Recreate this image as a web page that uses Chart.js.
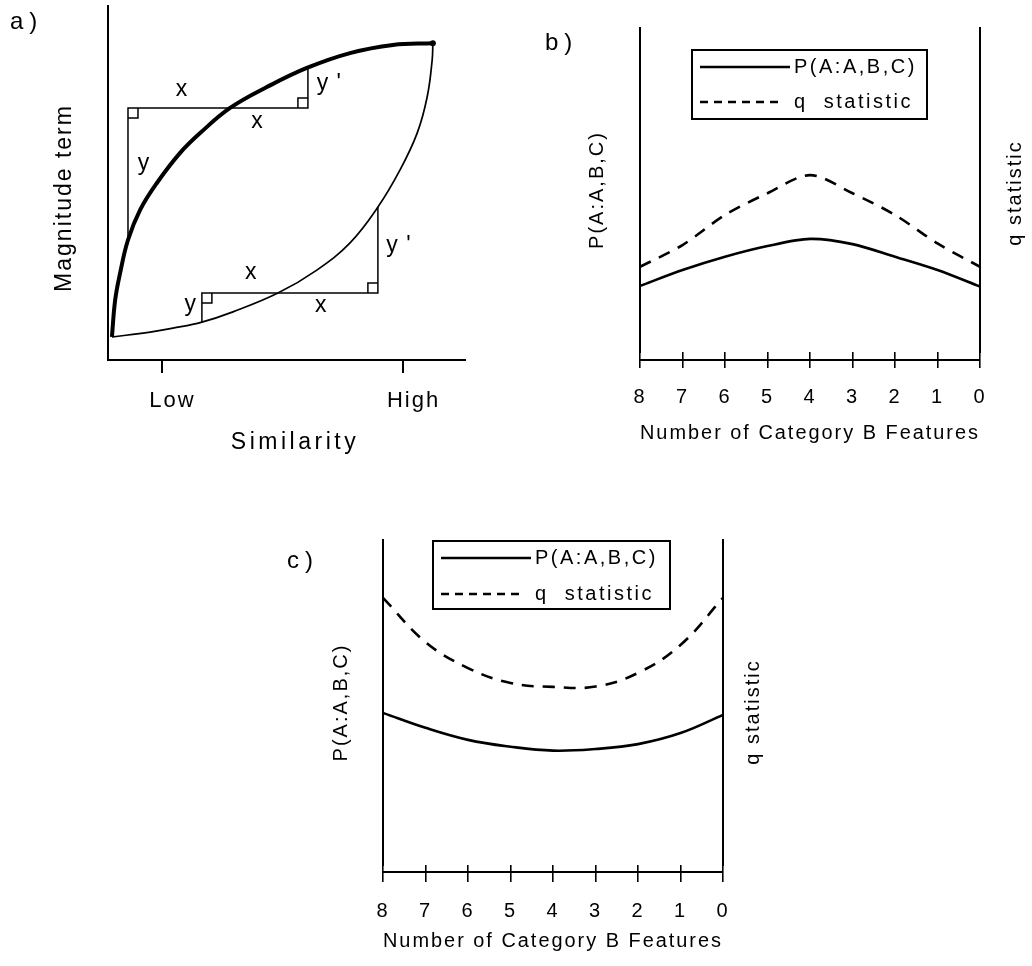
<!DOCTYPE html>
<html>
<head>
<meta charset="utf-8">
<title>Similarity, magnitude term and category B features</title>
<script src="https://cdn.jsdelivr.net/npm/chart.js@4.4.1/dist/chart.umd.min.js"></script>
<style>
  body { margin:0; background:#fff; width:1032px; height:966px; overflow:hidden; position:relative; }
  .panel { position:absolute; }
</style>
</head>
<body>
<div class="panel" style="left:0;top:0"><canvas id="panel_a" width="500" height="470"></canvas></div>
<div class="panel" style="left:520px;top:0"><canvas id="panel_b" width="512" height="470"></canvas></div>
<div class="panel" style="left:260px;top:500px"><canvas id="panel_c" width="520" height="466"></canvas></div>
<script>
// panel a - magnitude term against similarity
const thickX = [0.11, 0.20, 0.34, 0.56, 0.90, 1.37, 2.02, 2.58, 3.42, 4.45, 5.57, 6.78, 7.98, 9.10];
const thickY = [0.65, 1.69, 2.46, 3.39, 4.24, 5.00, 5.85, 6.41, 7.12, 7.71, 8.25, 8.67, 8.90, 8.95];
const thinX = [0.11, 1.18, 1.82, 2.63, 3.50, 4.76, 5.85, 6.78, 7.56, 8.18, 8.66, 8.94, 9.08, 9.10];
const thinY = [0.65, 0.79, 0.90, 1.07, 1.36, 1.89, 2.54, 3.31, 4.32, 5.37, 6.41, 7.43, 8.47, 8.95];
const simTicks = [1.5, 8.25];
const simLabels = ['Low', 'High'];
const upperGuideX = [0.56, 0.56, 5.6, 5.6];
const upperGuideY = [3.39, 7.12, 7.12, 8.25];
const lowerGuideX = [2.63, 2.63, 7.56, 7.56];
const lowerGuideY = [1.07, 1.89, 1.89, 4.32];
const guideText = ['x', 'x', 'y', "y '", 'x', 'x', 'y', "y '"];
const guideTextX = [2.07, 4.19, 1.01, 6.2, 4.01, 5.97, 2.32, 8.15];
const guideTextY = [7.58, 6.69, 5.48, 7.74, 2.40, 1.47, 1.50, 3.16];
// right angle corners: x, y, side in x, side in y
const corners = [[0.56, 7.12, 1, -1], [5.6, 7.12, -1, 1], [2.63, 1.89, 1, -1], [7.56, 1.89, -1, 1]];

// panels b and c
const features = [8, 7, 6, 5, 4, 3, 2, 1, 0];
const pB = [2.04, 2.53, 2.94, 3.27, 3.49, 3.33, 2.94, 2.53, 2.02];
const qB = [2.63, 3.30, 4.23, 4.90, 5.46, 4.90, 4.23, 3.35, 2.63];
const pC = [4.68, 4.22, 3.85, 3.64, 3.52, 3.57, 3.72, 4.06, 4.62];
const qC = [8.22, 6.86, 6.06, 5.60, 5.48, 5.49, 5.91, 6.77, 8.22];

const FONT = '"Liberation Sans", Arial, Helvetica, sans-serif';
Chart.defaults.font.family = FONT;
Chart.defaults.color = '#000';

const pts = (xs, ys) => xs.map((v, i) => ({x: v, y: ys[i]}));

const spacing = {
	id: 'spacing',
	beforeDraw(chart, args, opts) {
		chart.ctx.letterSpacing = opts.value || '0px';
	}
};

const notes = {
	id: 'notes',
	afterDraw(chart, args, opts) {
		const ctx = chart.ctx;
		(opts.items || []).forEach(it => {
			ctx.save();
			ctx.font = it.size + 'px ' + FONT;
			ctx.letterSpacing = it.spacing || '2px';
			ctx.fillStyle = '#000';
			ctx.textAlign = it.align || 'center';
			ctx.textBaseline = 'middle';
			ctx.translate(it.x, it.y);
			if (it.rotate) ctx.rotate(it.rotate);
			ctx.fillText(it.text, 0, 0);
			ctx.restore();
		});
	}
};

const guideMarks = {
	id: 'guideMarks',
	afterDatasetsDraw(chart) {
		const {ctx, scales: {x, y}} = chart;
		ctx.save();
		ctx.strokeStyle = '#000';
		ctx.lineWidth = 1.5;
		corners.forEach(([cx, cy, sx, sy]) => {
			const px = x.getPixelForValue(cx), py = y.getPixelForValue(cy), s = 10;
			ctx.beginPath();
			ctx.moveTo(px + sx * s, py);
			ctx.lineTo(px + sx * s, py - sy * s);
			ctx.lineTo(px, py - sy * s);
			ctx.stroke();
		});
		ctx.fillStyle = '#000';
		ctx.font = '23px ' + FONT;
		ctx.letterSpacing = '1px';
		ctx.textAlign = 'center';
		ctx.textBaseline = 'middle';
		guideText.forEach((t, i) => {
			ctx.fillText(t, x.getPixelForValue(guideTextX[i]), y.getPixelForValue(guideTextY[i]) - 2);
		});
		ctx.restore();
	}
};

const boxLegend = {
	id: 'boxLegend',
	afterDraw(chart, args, opts) {
		const {ctx, chartArea} = chart;
		const left = chartArea.left + opts.dx, top = chartArea.top + opts.dy;
		ctx.save();
		ctx.strokeStyle = '#000';
		ctx.fillStyle = '#000';
		ctx.lineWidth = 2;
		ctx.strokeRect(left, top, opts.width, opts.height);
		ctx.font = '20px ' + FONT;
		ctx.letterSpacing = '2.5px';
		ctx.textBaseline = 'middle';
		chart.data.datasets.forEach((ds, i) => {
			const yy = top + opts.rows[i];
			const dashed = ds.borderDash && ds.borderDash.length;
			ctx.beginPath();
			ctx.lineWidth = 2.4;
			ctx.setLineDash(dashed ? [8, 6] : []);
			ctx.moveTo(left + 8, yy);
			ctx.lineTo(left + (dashed ? 86 : 98), yy);
			ctx.stroke();
			ctx.setLineDash([]);
			ctx.fillText(dashed ? 'q  statistic' : ds.label, left + 102, yy);
		});
		ctx.restore();
	}
};

// baseline of the feature axis, the ticks cross it
const baseLine = {
	id: 'baseLine',
	afterDraw(chart, args, opts) {
		const {ctx, chartArea} = chart;
		ctx.save();
		ctx.strokeStyle = '#000';
		ctx.lineWidth = 2.2;
		ctx.beginPath();
		ctx.moveTo(chartArea.left, chartArea.bottom + opts.offset);
		ctx.lineTo(chartArea.right, chartArea.bottom + opts.offset);
		ctx.stroke();
		ctx.restore();
	}
};

new Chart(document.getElementById('panel_a'), {
	type: 'scatter',
	data: {
		datasets: [
			{data: pts(thickX, thickY), showLine: true, borderColor: '#000', borderWidth: 4, tension: 0.4,
				pointRadius: c => c.dataIndex === thickX.length - 1 ? 3 : 0, pointBackgroundColor: '#000', pointBorderWidth: 0},
			{data: pts(thinX, thinY), showLine: true, borderColor: '#000', borderWidth: 1.7, tension: 0.4, pointRadius: 0},
			{data: pts(upperGuideX, upperGuideY), showLine: true, borderColor: '#000', borderWidth: 1.5, tension: 0, pointRadius: 0},
			{data: pts(lowerGuideX, lowerGuideY), showLine: true, borderColor: '#000', borderWidth: 1.5, tension: 0, pointRadius: 0}
		]
	},
	options: {
		responsive: false,
		animation: false,
		events: [],
		layout: {padding: {top: 6, right: 35, left: 0, bottom: 0}},
		scales: {
			x: {
				type: 'linear', min: 0, max: 10,
				afterBuildTicks: s => { s.ticks = simTicks.map(v => ({value: v})); },
				ticks: {callback: (v, i) => simLabels[i], font: {size: 22}, padding: 15, labelOffset: 11, autoSkip: false, maxRotation: 0},
				grid: {drawOnChartArea: false, tickLength: 13, color: '#000', lineWidth: 2},
				border: {color: '#000', width: 2},
				afterFit: s => { s.height = 110; }
			},
			y: {
				min: 0, max: 10,
				ticks: {display: false},
				grid: {display: false},
				border: {color: '#000', width: 2},
				afterFit: s => { s.width = 108; }
			}
		},
		plugins: {
			legend: {display: false},
			tooltip: {enabled: false},
			spacing: {value: '2px'},
			notes: {items: [
				{text: 'a)', x: 10, y: 22, size: 24, align: 'left', spacing: '6px'},
				{text: 'Similarity', x: 295, y: 443, size: 23, spacing: '3.5px'},
				{text: 'Magnitude term', x: 65, y: 198, size: 23, spacing: '2px', rotate: -Math.PI / 2}
			]}
		}
	},
	plugins: [spacing, guideMarks, notes]
});

function featureChart(id, pVals, qVals, g) {
	return new Chart(document.getElementById(id), {
		type: 'line',
		data: {
			datasets: [
				{label: 'P(A:A,B,C)', data: pts(features, pVals), borderColor: '#000', borderWidth: 2.6,
					pointRadius: 0, tension: g.tension, yAxisID: 'y'},
				{label: 'q statistic', data: pts(features, qVals), borderColor: '#000', borderWidth: 2.6,
					borderDash: [12, 9], pointRadius: 0, tension: g.tension, yAxisID: 'y2'}
			]
		},
		options: {
			responsive: false,
			animation: false,
			events: [],
			layout: {padding: {top: g.top, left: 0, right: 0, bottom: 0}},
			scales: {
				x: {
					type: 'linear', min: 0, max: 8, reverse: true,
					afterBuildTicks: s => { s.ticks = features.map(v => ({value: v})); },
					ticks: {font: {size: 20}, padding: g.tickPad, autoSkip: false, maxRotation: 0},
					grid: {drawOnChartArea: false, tickLength: g.tickLen, color: '#000', lineWidth: 1.6},
					border: {display: false},
					title: {display: true, text: 'Number of Category B Features', font: {size: 20}, padding: {top: 0, bottom: g.titlePad}},
					afterFit: s => { s.height = g.xH; }
				},
				y: {
					position: 'left', min: 0, max: 10,
					ticks: {display: false},
					grid: {display: false},
					border: {color: '#000', width: 2},
					title: {display: true, text: 'P(A:A,B,C)', font: {size: 20}, padding: {top: g.yTitlePad, bottom: 0}},
					afterFit: s => { s.width = g.yW; }
				},
				y2: {
					position: 'right', min: 0, max: 10,
					ticks: {display: false},
					grid: {display: false},
					border: {color: '#000', width: 2},
					afterFit: s => { s.width = g.y2W; }
				}
			},
			plugins: {
				legend: {display: false},
				tooltip: {enabled: false},
				spacing: {value: '2px'},
				baseLine: {offset: g.baseOff},
				boxLegend: g.legend,
				notes: {items: g.notes}
			}
		},
		plugins: [spacing, baseLine, boxLegend, notes]
	});
}

featureChart('panel_b', pB, qB, {
	tension: 0.3, top: 28, yW: 120, y2W: 52, xH: 118,
	tickLen: 16, tickPad: 17, titlePad: 25, yTitlePad: 65, baseOff: 8,
	legend: {dx: 52, dy: 22, width: 235, height: 69, rows: [17, 52]},
	notes: [
		{text: 'b)', x: 25, y: 43, size: 24, align: 'left', spacing: '6px'},
		{text: 'q statistic', x: 495, y: 193, size: 20, rotate: -Math.PI / 2}
	]
});

featureChart('panel_c', pC, qC, {
	tension: 0.4, top: 40, yW: 123, y2W: 57, xH: 101,
	tickLen: 17, tickPad: 17, titlePad: 13, yTitlePad: 69, baseOff: 7,
	legend: {dx: 50, dy: 1, width: 237, height: 68, rows: [17, 53]},
	notes: [
		{text: 'c)', x: 27, y: 61, size: 24, align: 'left', spacing: '6px'},
		{text: 'q statistic', x: 493, y: 212, size: 20, rotate: -Math.PI / 2}
	]
});
</script>
</body>
</html>
